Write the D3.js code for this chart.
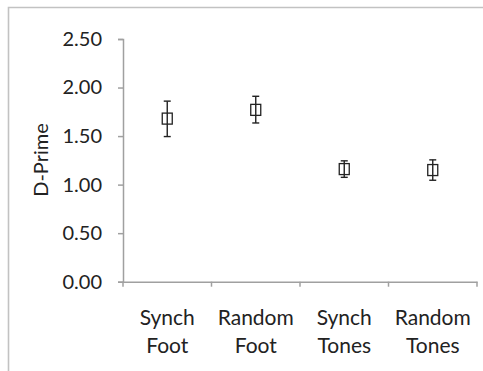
<!DOCTYPE html>
<html><head><meta charset="utf-8">
<script src="https://cdn.jsdelivr.net/npm/d3@7"></script>
<style>html,body{margin:0;padding:0;background:#fff;}svg{display:block;}</style>
</head><body>
<script>
const categories = [["Synch","Foot"],["Random","Foot"],["Synch","Tones"],["Random","Tones"]];
const means = [1.68, 1.77, 1.16, 1.15];
const upper = [1.86, 1.91, 1.245, 1.255];
const lower = [1.495, 1.635, 1.075, 1.045];
const yTicks = [0, 0.5, 1.0, 1.5, 2.0, 2.5];
const yLabel = "D-Prime";

(function(){
const W = 483, H = 371;
const svg = d3.select("body").append("svg").attr("width", W).attr("height", H);
const font = "Lato, 'Open Sans', sans-serif";
svg.append("path").attr("d", `M8.5,${H} V7.5 H${W}`).attr("fill","none").attr("stroke","#c2c2c2").attr("stroke-width",1.6);

const mLeft = 123, mRight = 477, mTop = 39, mBottom = 281.7;
const x = d3.scaleBand().domain(d3.range(categories.length)).range([mLeft, mRight]);
const y = d3.scaleLinear().domain([0, 2.5]).range([mBottom, mTop]);

const axisColor = "#a0a0a0";
const yAxis = svg.append("g").attr("transform", `translate(${mLeft},0)`)
  .call(d3.axisLeft(y).tickValues(yTicks).tickFormat(d3.format(".2f")).tickSize(5).tickPadding(16));
const xAxis = svg.append("g").attr("transform", `translate(0,${mBottom})`)
  .call(d3.axisBottom(x).tickValues([]).tickSizeOuter(0));
[yAxis, xAxis].forEach(g => {
  g.selectAll("path.domain").attr("stroke", axisColor).attr("stroke-width", 1.5);
  g.selectAll(".tick line").attr("stroke", axisColor).attr("stroke-width", 1.5);
});
yAxis.selectAll(".tick text").attr("font-family", font).attr("font-size", 20).attr("fill", "#222");
const bounds = d3.range(categories.length + 1).map(i => i < categories.length ? x(i) : x(categories.length - 1) + x.bandwidth());
xAxis.selectAll(".xb").data(bounds).enter().append("line")
  .attr("x1", d => d).attr("x2", d => d).attr("y1", 0).attr("y2", 5)
  .attr("stroke", axisColor).attr("stroke-width", 1.5);

const lab = svg.append("g");
categories.forEach((c, i) => {
  const t = lab.append("text").attr("x", x(i) + x.bandwidth()/2).attr("y", 325)
    .attr("text-anchor","middle").attr("font-family", font).attr("font-size", 21).attr("fill","#222");
  c.forEach((line, j) => t.append("tspan").attr("x", x(i) + x.bandwidth()/2).attr("dy", j === 0 ? 0 : 28).text(line));
});

svg.append("text").attr("transform", `translate(48,160) rotate(-90)`).attr("text-anchor","middle")
  .attr("font-family", font).attr("font-size", 20).attr("fill","#222").text(yLabel);

const g = svg.append("g");
const cap = 3.5;
means.forEach((m, i) => {
  const cx = x(i) + x.bandwidth()/2;
  g.append("line").attr("x1", cx).attr("x2", cx).attr("y1", y(upper[i])).attr("y2", y(lower[i])).attr("stroke","#222").attr("stroke-width",1.4);
  [upper[i], lower[i]].forEach(v => g.append("line").attr("x1", cx - cap).attr("x2", cx + cap).attr("y1", y(v)).attr("y2", y(v)).attr("stroke","#222").attr("stroke-width",1.4));
  g.append("rect").attr("x", cx - 5).attr("y", y(m) - 5.5).attr("width", 10).attr("height", 11)
    .attr("fill","none").attr("stroke","#222").attr("stroke-width",1.3);
});
})();
</script>
</body></html>
